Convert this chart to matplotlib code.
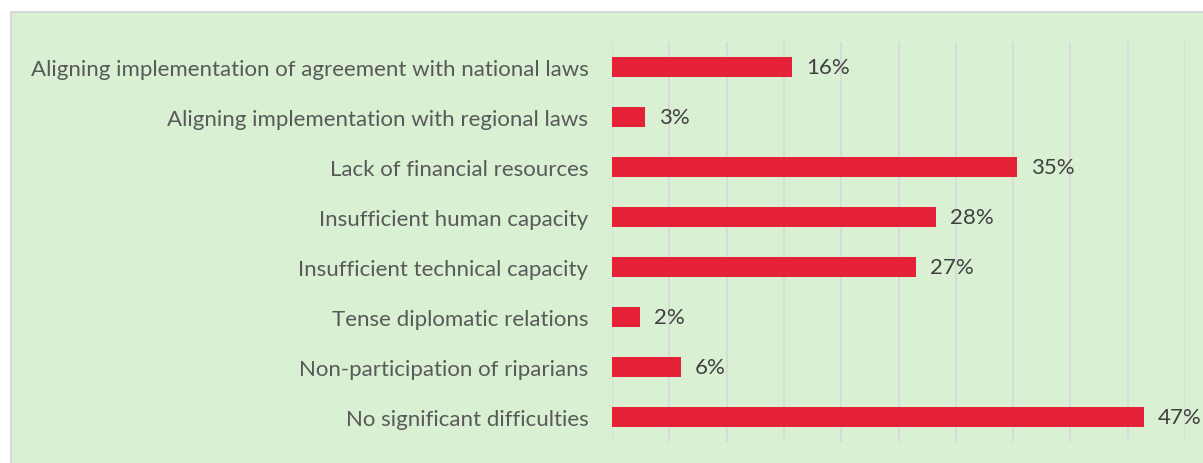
import matplotlib
matplotlib.use("Agg")
import matplotlib.pyplot as plt
from matplotlib.patches import Rectangle

categories = [
    "Aligning implementation of agreement with national laws",
    "Aligning implementation with regional laws",
    "Lack of financial resources",
    "Insufficient human capacity",
    "Insufficient technical capacity",
    "Tense diplomatic relations",
    "Non-participation of riparians",
    "No significant difficulties",
]
values = [15.7, 2.9, 35.3, 28.3, 26.5, 2.4, 6.0, 46.4]
labels = ["16%", "3%", "35%", "28%", "27%", "2%", "6%", "47%"]

W, H = 1203, 464
fig = plt.figure(figsize=(W / 100, H / 100), dpi=100)
fig.patch.set_facecolor("white")

bg = Rectangle((11 / W, -0.1), 1.2, 1 - 13 / H + 0.1, transform=fig.transFigure,
               facecolor="#d9f0d3", edgecolor="#d9d9d9", linewidth=1.5, zorder=-10)
fig.patches.append(bg)

ax = fig.add_axes([612 / W, 1 - 443 / H, (1185 - 612) / W, (443 - 42.5) / H])
ax.set_zorder(5)
ax.set_facecolor("none")
ypos = list(range(len(categories)))
ax.barh(ypos, values, height=0.4, color="#e52238", zorder=3)
ax.set_xlim(0, 50)
ax.set_ylim(len(categories) - 0.5, -0.5)
ax.set_xticks([i * 5 for i in range(11)])
ax.set_xticklabels([])
ax.tick_params(axis="x", length=0)
ax.tick_params(axis="y", length=0, pad=17)
ax.set_yticks(ypos)
ax.set_yticklabels(categories, fontsize=16, color="#595959", family="Lato")
ax.grid(axis="x", color="#d9d9d9", linewidth=1.3, zorder=1)
for s in ax.spines.values():
    s.set_visible(False)

for y, v, lab in zip(ypos, values, labels):
    ax.annotate(lab, (v, y), xytext=(14, 0), textcoords="offset pixels",
                va="center", ha="left", fontsize=16, color="#404040", family="Lato",
                annotation_clip=False)

fig.savefig("out.png", dpi=100, facecolor="white")
